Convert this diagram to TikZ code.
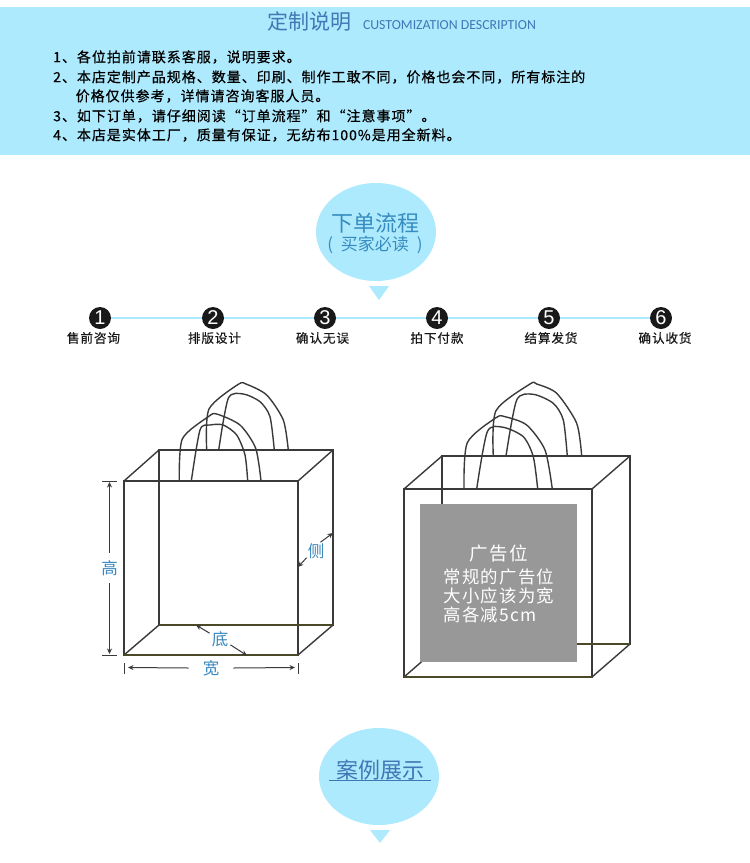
\documentclass[tikz,border=0pt]{standalone}
\usepackage{fontspec}
\usetikzlibrary{arrows.meta,shapes.geometric}
\setmainfont{Noto Sans CJK SC}
\newfontfamily\bodyfont[LetterSpace=7,FakeBold=0.5]{Noto Sans CJK SC}
\newfontfamily\adfont[LetterSpace=7]{Noto Sans CJK SC}
\newfontfamily\engfont{Carlito}
\newfontfamily\numfont{Liberation Sans}
\definecolor{skyfill}{HTML}{AEEAFD}
\definecolor{titleblue}{HTML}{3F78B5}
\definecolor{bagline}{HTML}{3A3A3A}
\definecolor{bagfloor}{HTML}{4A4A28}
\definecolor{adgray}{HTML}{989898}
\tikzset{
	bodyline/.style={anchor=west,inner sep=0pt,text=black,font=\fontsize{14}{14}\bodyfont},
	steplabel/.style={inner sep=0pt,text=black!90,font=\fontsize{12.6}{12.6}\bodyfont},
	stepdot/.style={circle,fill=black!90,text=white,inner sep=0pt,minimum size=22pt,font=\fontsize{20}{20}\numfont},
	bagedge/.style={draw=bagline,line width=1.4pt},
	handleline/.style={draw=bagline,line width=1.4pt},
	dimline/.style={draw=bagline,line width=1pt},
	dimtip/.style={dimline,-{Stealth[length=5.5pt,width=5pt]}},
	dimlabel/.style={inner sep=0pt,text=titleblue!90!cyan,font=\fontsize{16.5}{16.5}\selectfont},
	adtext/.style={inner sep=0pt,anchor=west,text=white,font=\fontsize{17.4}{17.4}\adfont}
}
\begin{document}
\begin{tikzpicture}[x=1pt,y=-1pt]
	\useasboundingbox (0,0) rectangle (750,863);
	% top band
	\fill[skyfill] (0,7) rectangle (750,155);
	\node[inner sep=0pt,text=titleblue,font=\fontsize{21}{21}\selectfont] (title) at (309,22) {定制说明};
	\node[inner sep=0pt,text=titleblue,font=\fontsize{13.8}{13.8}\engfont] (subtitle) at (449.5,25) {CUSTOMIZATION DESCRIPTION};
	\node[bodyline] (line1) at (53,57) {1、各位拍前请联系客服，说明要求。};
	\node[bodyline] (line2) at (53,77) {2、本店定制产品规格、数量、印刷、制作工敢不同，价格也会不同，所有标注的};
	\node[bodyline] (line2b) at (75.5,96) {价格仅供参考，详情请咨询客服人员。};
	\node[bodyline] (line3) at (53,116) {3、如下订单，请仔细阅读“订单流程”和“注意事项”。};
	\node[bodyline] (line4) at (53,135) {4、本店是实体工厂，质量有保证，无纺布100\%是用全新料。};
	% order bubble
	\node[ellipse,fill=skyfill,minimum width=120pt,minimum height=98pt,inner sep=0pt] (orderbubble) at (376,232) {};
	\node[inner sep=0pt,text=titleblue!85!cyan,font=\fontsize{22}{22}\selectfont] (ordertitle) at (375,223) {下单流程};
	\node[inner sep=0pt,text=titleblue!85!cyan,font=\fontsize{17}{17}\selectfont] (ordernote) at (375,244.5) {(\hspace{8pt}买家必读\hspace{8pt})};
	\fill[skyfill] (369,286) -- (389,286) -- (379,300) -- cycle;
	% steps
	\node[stepdot] (s1) at (100,318) {1};
	\node[stepdot] (s2) at (213,318) {2};
	\node[stepdot] (s3) at (325,318) {3};
	\node[stepdot] (s4) at (437,318) {4};
	\node[stepdot] (s5) at (549,318) {5};
	\node[stepdot] (s6) at (661,318) {6};
	\draw[skyfill,line width=2.5pt] (s1) -- (s2);
	\draw[skyfill,line width=2.5pt] (s2) -- (s3);
	\draw[skyfill,line width=2.5pt] (s3) -- (s4);
	\draw[skyfill,line width=2.5pt] (s4) -- (s5);
	\draw[skyfill,line width=2.5pt] (s5) -- (s6);
	\node[steplabel] (t1) at (93.5,338) {售前咨询};
	\node[steplabel] (t2) at (214.5,338) {排版设计};
	\node[steplabel] (t3) at (322.5,338) {确认无误};
	\node[steplabel] (t4) at (437,338) {拍下付款};
	\node[steplabel] (t5) at (551,338) {结算发货};
	\node[steplabel] (t6) at (665,338) {确认收货};
	% left bag
	\draw[bagedge] (159,450) rectangle (333,625);
	\draw[handleline] plot[smooth,tension=.45] coordinates {(206.7,450) (209,409) (238.3,384.3) (246.7,384.3) (266.7,395) (283.3,420) (288.3,450)};
	\draw[handleline] plot[smooth,tension=.45] coordinates {(218.7,450) (228.3,398.3) (243.3,394) (260,401.7) (270,416.7) (274.3,450)};
	\draw[handleline] plot[smooth,tension=.45] coordinates {(179.3,481) (182.3,439) (208.3,416.7) (216.7,414) (240,425) (255.7,448.3) (261,481)};
	\draw[handleline] plot[smooth,tension=.45] coordinates {(191.3,481) (200,430) (210,425) (223.3,425) (236.7,435) (245,455) (247.7,481)};
	\draw[bagedge] (124,481) rectangle (298,655);
	\draw[bagedge] (124,481) -- (159,450);
	\draw[bagedge] (298,481) -- (333,450);
	\draw[bagedge] (298,655) -- (333,625);
	\draw[bagedge] (124,655) -- (159,625);
	\draw[bagfloor,line width=1.4pt] (159,625) -- (333,625);
	\draw[bagfloor,line width=1.4pt] (124,655) -- (298,655);
	% dimensions
	\node[dimlabel] (high) at (109.5,568) {高};
	\node[dimlabel] (wide) at (211,668) {宽};
	\node[dimlabel] (floor) at (220,639) {底};
	\node[dimlabel] (side) at (316,551) {侧};
	\coordinate (hightop) at (109.5,482);
	\coordinate (highbot) at (109.5,654);
	\coordinate (wideleft) at (128,667.5);
	\coordinate (wideright) at (295,667.5);
	\coordinate (floorback) at (196,625);
	\coordinate (floorfront) at (247,655.5);
	\coordinate (sideback) at (333,533);
	\coordinate (sidefront) at (298,567);
	\draw[dimtip] ([yshift=7pt]high.north) -- (hightop);
	\draw[dimtip] ([yshift=-7pt]high.south) -- (highbot);
	\draw[dimtip] ([xshift=-14pt]wide.west) -- (wideleft);
	\draw[dimtip] ([xshift=14pt]wide.east) -- (wideright);
	\draw[dimtip] ([shift={(-2pt,-2pt)}]floor.north west) -- (floorback);
	\draw[dimtip] ([shift={(2pt,2pt)}]floor.south east) -- (floorfront);
	\draw[dimtip] ([shift={(-4pt,1pt)}]side.north east) -- (sideback);
	\draw[dimtip] ([shift={(-1pt,1pt)}]side.south west) -- (sidefront);
	\draw[dimline] (102,481) -- (117,481);
	\draw[dimline] (102,655.5) -- (117,655.5);
	\draw[dimline] (124,663) -- (124,674);
	\draw[dimline] (298,663) -- (298,674);
	% right bag
	\draw[bagedge] (442,456) rectangle (630,644);
	\draw[handleline] plot[smooth,tension=.45] coordinates {(493.3,456) (496,410.7) (530,384) (536.7,384) (556.7,393.3) (576.7,423.3) (581.7,456)};
	\draw[handleline] plot[smooth,tension=.45] coordinates {(506,456) (516.7,400) (533.3,394.3) (553.3,403.3) (563.3,420) (567.3,456)};
	\draw[handleline] plot[smooth,tension=.45] coordinates {(464,489) (467.3,442.7) (496,417.7) (505,416.7) (526.7,425) (545,450) (552.3,489)};
	\draw[handleline] plot[smooth,tension=.45] coordinates {(476.7,489) (487.3,431.7) (503.3,427.3) (523.3,436.7) (533.3,456.7) (537.7,489)};
	\draw[bagedge] (404,489) rectangle (592,677);
	\draw[bagedge] (404,489) -- (442,456);
	\draw[bagedge] (592,489) -- (630,456);
	\draw[bagedge] (592,677) -- (630,644);
	\draw[bagedge] (404,677) -- (442,644);
	\draw[bagfloor,line width=1.4pt] (442,644) -- (630,644);
	\draw[bagfloor,line width=1.4pt] (404,677) -- (592,677);
	\fill[adgray] (420,504) rectangle (577,662);
	\node[inner sep=0pt,text=white,font=\fontsize{18.5}{18.5}\adfont] (adtitle) at (499,553) {广告位};
	\node[adtext] (ad1) at (443.5,577) {常规的广告位};
	\node[adtext] (ad2) at (443.5,596) {大小应该为宽};
	\node[adtext] (ad3) at (443.5,615) {高各减5cm};
	% case bubble
	\node[ellipse,fill=skyfill,minimum width=120pt,minimum height=97pt,inner sep=0pt] (casebubble) at (379,776.5) {};
	\node[inner sep=0pt,text=titleblue,font=\fontsize{22}{22}\selectfont] (casetitle) at (380,770) {案例展示};
	\coordinate (caseleft) at (329,780.5);
	\coordinate (caseright) at (431,780.5);
	\draw[titleblue,line width=1pt] (caseleft) -- (caseright);
	\fill[skyfill] (370,830) -- (390,830) -- (380,843) -- cycle;
\end{tikzpicture}
\end{document}
